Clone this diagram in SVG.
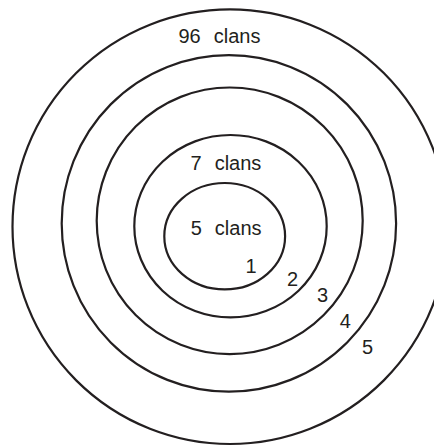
<svg xmlns="http://www.w3.org/2000/svg" width="434" height="446" viewBox="0 0 434 446">
<style>
.ring{fill:none;stroke:#231f20;stroke-width:2.2}
.lbl{font-family:"Liberation Sans",Arial,sans-serif;font-size:20px;fill:#231f20;word-spacing:7.5px}
</style>
<rect width="434" height="446" fill="#ffffff"/>
<g id="ring5">
<ellipse class="ring" cx="230" cy="226.7" rx="217.5" ry="217.3"/>
<text class="lbl" x="178.5" y="43.3">96 clans</text>
<text class="lbl" x="362" y="354">5</text>
</g>
<g id="ring4">
<ellipse class="ring" cx="228.9" cy="223.4" rx="167.2" ry="168.3"/>
<text class="lbl" x="339.8" y="328">4</text>
</g>
<g id="ring3">
<ellipse class="ring" cx="229.7" cy="220.8" rx="133" ry="133.3"/>
<text class="lbl" x="317" y="302.3">3</text>
</g>
<g id="ring2">
<ellipse class="ring" cx="230.5" cy="226.2" rx="96.2" ry="91.2"/>
<text class="lbl" x="190.5" y="170">7 clans</text>
<text class="lbl" x="287" y="286">2</text>
</g>
<g id="ring1">
<ellipse class="ring" cx="224.7" cy="236.2" rx="60.4" ry="53.2"/>
<text class="lbl" x="190.7" y="234.7">5 clans</text>
<text class="lbl" x="245.5" y="272.7">1</text>
</g>
<g id="connectors"></g>
</svg>
